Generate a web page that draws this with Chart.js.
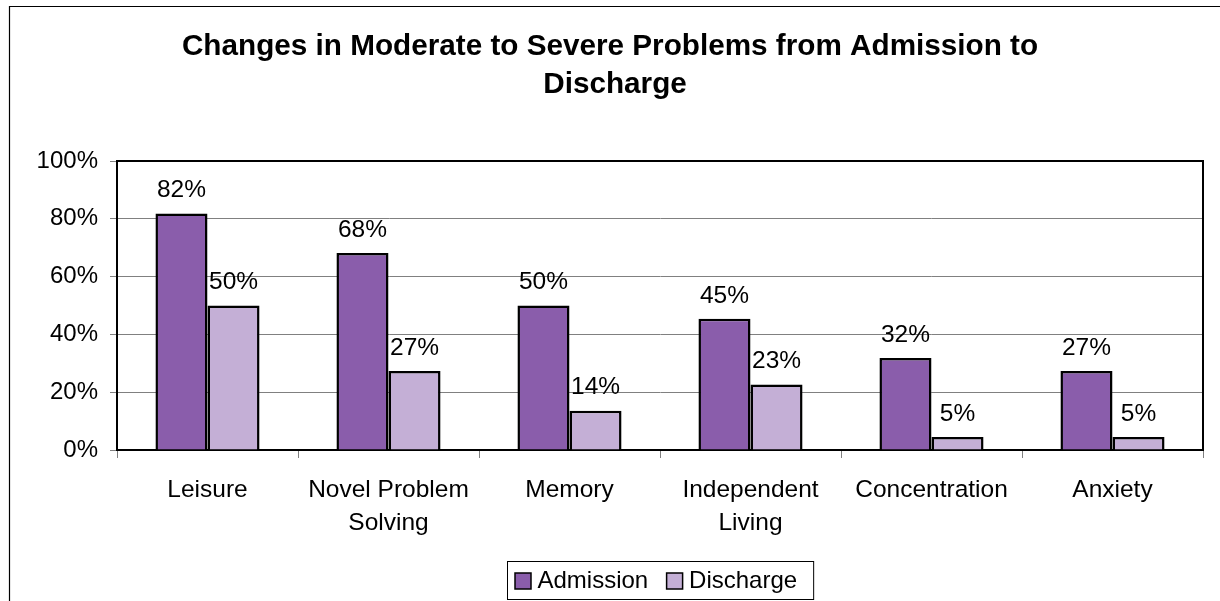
<!DOCTYPE html>
<html><head><meta charset="utf-8">
<script src="https://cdn.jsdelivr.net/npm/chart.js@4"></script>
<style>html,body{margin:0;padding:0;background:#fff;overflow:hidden}#wrap{width:1220px;height:601px;position:relative}</style>
</head><body><div id="wrap"><canvas id="c" width="1220" height="601"></canvas></div>
<script>
const categories = [["Leisure"], ["Novel Problem", "Solving"], ["Memory"], ["Independent", "Living"], ["Concentration"], ["Anxiety"]];
const admission = [81.8, 68.2, 50.0, 45.4, 31.8, 27.3];
const discharge = [50.0, 27.3, 13.6, 22.7, 4.5, 4.5];
const seriesNames = ["Admission", "Discharge"];
const yTickValues = [0, 20, 40, 60, 80, 100];
const titleLines = ["Changes in Moderate to Severe Problems from Admission to", "Discharge"];

const COLORS = ["#8A5DAB", "#C4AFD6"];
const FONT = "'Liberation Sans', Arial, sans-serif";

const decor = {
  id: 'decor',
  afterDatasetsDraw(chart) {
    const ctx = chart.ctx;
    ctx.save();
    ctx.font = "24.5px " + FONT;
    ctx.fillStyle = "#000";
    ctx.textAlign = "center";
    ctx.textBaseline = "alphabetic";
    chart.data.datasets.forEach((ds, i) => {
      const meta = chart.getDatasetMeta(i);
      meta.data.forEach((bar, j) => {
        const txt = Math.round(ds.data[j]) + "%";
        ctx.fillText(txt, bar.x, bar.y - 25 + 8.8);
      });
    });
    ctx.restore();
  },
  afterDraw(chart) {
    const ctx = chart.ctx;
    const a = chart.chartArea;
    ctx.save();
    // outer chart border (extends beyond the window)
    ctx.strokeStyle = "#000";
    ctx.lineWidth = 1.2;
    ctx.beginPath();
    ctx.moveTo(9.5, 700); ctx.lineTo(9.5, 6.5); ctx.lineTo(1300, 6.5);
    ctx.stroke();
    // plot area border
    ctx.lineWidth = 2;
    ctx.beginPath();
    ctx.moveTo(a.left, a.top); ctx.lineTo(a.right, a.top); ctx.lineTo(a.right, a.bottom);
    ctx.stroke();
    // title
    ctx.fillStyle = "#000";
    ctx.textAlign = "center";
    ctx.textBaseline = "alphabetic";
    ctx.font = "bold 29.7px " + FONT;
    ctx.fillText(titleLines[0], 610, 54.5);
    ctx.fillText(titleLines[1], 615, 93);
    // legend
    ctx.font = "24px " + FONT;
    ctx.textAlign = "left";
    ctx.textBaseline = "middle";
    const boxL = 507.5, boxT = 561.5, boxH = 38;
    let x = boxL + 7.5;
    const cy = 581;
    const items = chart.data.datasets.map(d => ({ label: d.label, color: d.backgroundColor }));
    items.forEach((it, k) => {
      ctx.fillStyle = it.color;
      ctx.fillRect(x, cy - 8, 16, 16);
      ctx.strokeStyle = "#000";
      ctx.lineWidth = 1.5;
      ctx.strokeRect(x, cy - 8, 16, 16);
      x += 16 + 6.5;
      ctx.fillStyle = "#000";
      ctx.fillText(it.label, x, cy);
      x += ctx.measureText(it.label).width + (k < items.length - 1 ? 18.4 : 16.5);
    });
    ctx.strokeStyle = "#000";
    ctx.lineWidth = 1;
    ctx.strokeRect(boxL, boxT, x - boxL, boxH);
    ctx.restore();
  }
};

new Chart(document.getElementById('c'), {
  type: 'bar',
  data: {
    labels: categories,
    datasets: [
      { label: seriesNames[0], data: admission, backgroundColor: COLORS[0], borderColor: "#000", borderWidth: 2.5 },
      { label: seriesNames[1], data: discharge, backgroundColor: COLORS[1], borderColor: "#000", borderWidth: 2.5 }
    ]
  },
  options: {
    responsive: false,
    animation: false,
    devicePixelRatio: 1,
    layout: { padding: { top: 161, right: 17, left: 0, bottom: 0 } },
    plugins: { legend: { display: false }, title: { display: false }, tooltip: { enabled: false } },
    datasets: { bar: { categoryPercentage: 0.575, barPercentage: 1.0 } },
    scales: {
      x: {
        afterFit(s) { s.height = 151; },
        grid: { display: true, drawOnChartArea: false, drawTicks: true, tickLength: 8, color: "#808080", offset: true },
        border: { display: true, color: "#000", width: 2 },
        ticks: { color: "#000", font: { family: FONT, size: 24.5, lineHeight: 1.38 }, padding: 15, maxRotation: 0, autoSkip: false }
      },
      y: {
        min: 0, max: 100,
        afterFit(s) { s.width = 117; },
        afterBuildTicks(s) { s.ticks = yTickValues.map(v => ({ value: v })); },
        grid: { color: "#808080", lineWidth: 1, drawTicks: true, tickLength: 7 },
        border: { display: true, color: "#000", width: 2 },
        ticks: { color: "#000", font: { family: FONT, size: 24 }, padding: 12, callback: v => v + "%" }
      }
    }
  },
  plugins: [decor]
});
</script>
</body></html>
